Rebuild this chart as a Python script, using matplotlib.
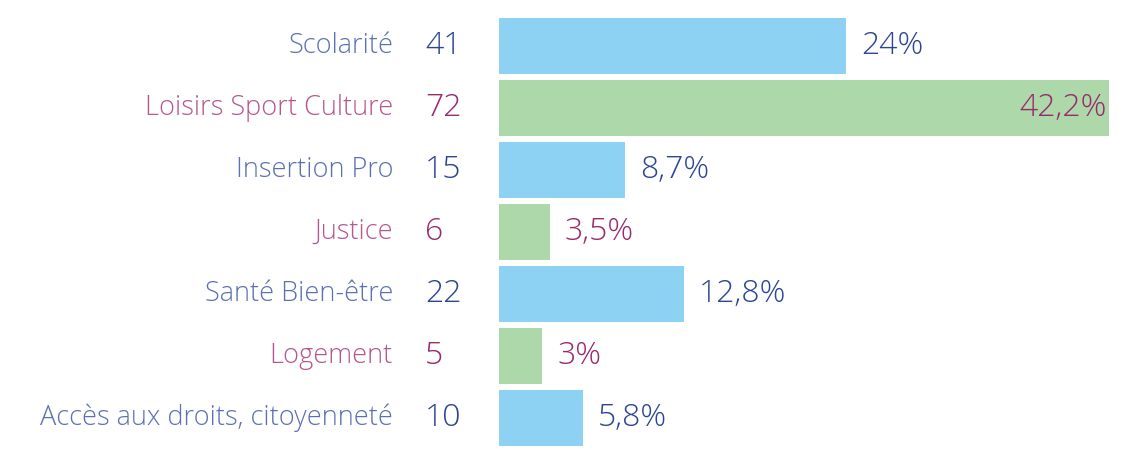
import numpy as np
import matplotlib.pyplot as plt

# data
categories = ['Scolarité', 'Loisirs Sport Culture', 'Insertion Pro', 'Justice',
              'Santé Bien-être', 'Logement', 'Accès aux droits, citoyenneté']
counts = [41, 72, 15, 6, 22, 5, 10]
percents = [24, 42.2, 8.7, 3.5, 12.8, 3, 5.8]
pct_labels = ['24%', '42,2%', '8,7%', '3,5%', '12,8%', '3%', '5,8%']
groups = ['blue', 'green', 'blue', 'green', 'blue', 'green', 'blue']

bar_col = {'blue': '#8dd1f3', 'green': '#acd8aa'}
lab_col = {'blue': '#5b70b3', 'green': '#b5568f'}
num_col = {'blue': '#2c4494', 'green': '#982a6c'}

plt.rcParams['font.family'] = ['Open Sans', 'DejaVu Sans']

fig = plt.figure(figsize=(11.44, 4.5), dpi=100)
ax = fig.add_axes([499 / 1144, 0, 1 - 499 / 1144, 1])

y = np.arange(len(categories))
ax.barh(y, percents, height=0.9, color=[bar_col[g] for g in groups])
ax.set_xlim(0, 645 / 14.45)
ax.set_ylim(6 + 32 / 62, -46 / 62)
ax.axis('off')

for i, cat in enumerate(categories):
    g = groups[i]
    ax.annotate(cat, (0, i), xytext=(-106, 0), textcoords='offset pixels',
                ha='right', va='center', fontsize=19.5, fontweight='light',
                color=lab_col[g])
    ax.annotate(str(counts[i]), (0, i), xytext=(-74, 0), textcoords='offset pixels',
                ha='left', va='center', fontsize=23, fontweight='light',
                color=num_col[g])
    if percents[i] == max(percents):
        ax.annotate(pct_labels[i], (percents[i], i), xytext=(-2, 0), textcoords='offset pixels',
                    ha='right', va='center', fontsize=23, fontweight='light',
                    color=num_col[g])
    else:
        ax.annotate(pct_labels[i], (percents[i], i), xytext=(15, 0), textcoords='offset pixels',
                    ha='left', va='center', fontsize=23, fontweight='light',
                    color=num_col[g])

fig.savefig('out.png', dpi=100)
